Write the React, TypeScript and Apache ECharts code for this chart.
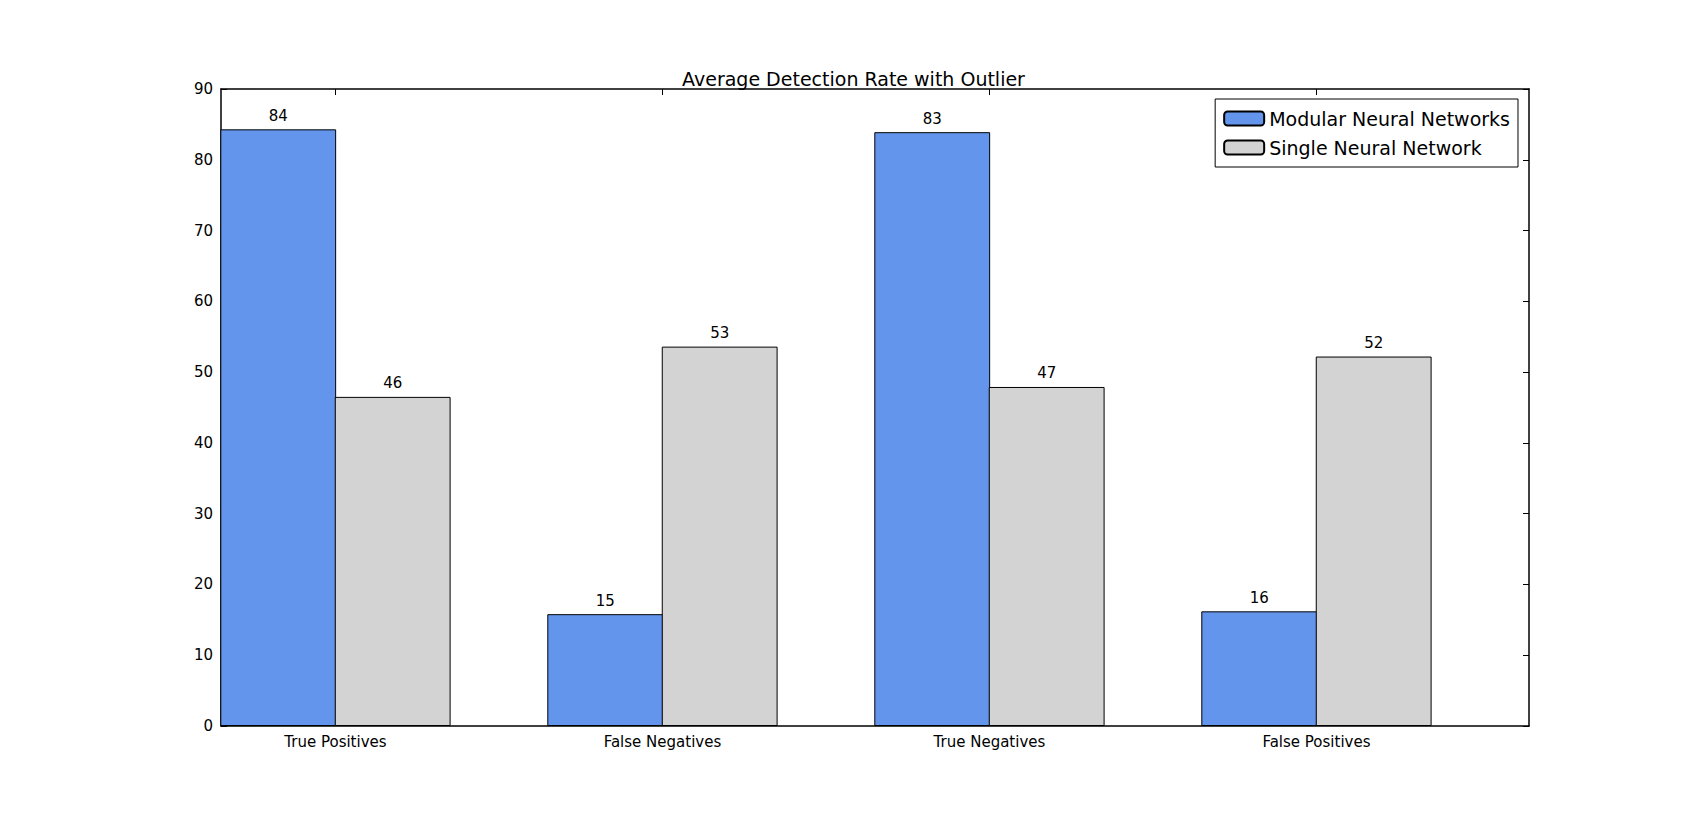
import * as echarts from "echarts";
import React, { useEffect, useRef } from "react";

const categories = ["True Positives", "False Negatives", "True Negatives", "False Positives"];
const modularValues = [84.3, 15.8, 83.9, 16.2];
const singleValues = [46.5, 53.6, 47.9, 52.2];
const yTicks = { min: 0, max: 90, interval: 10 };

const BAR = 0.35;
// 40 slots across [0,4]; slot centres at 0.35, 1.35 ... hold the category labels
const slots = Array.from({ length: 40 }, (_, k) => {
  const i = (k - 3) / 10;
  return Number.isInteger(i) ? categories[i] : "";
});
const isTick = (k: number) => (k - 3) % 10 === 0;

const App: React.FC = () => {
  const chartRef = useRef<HTMLDivElement | null>(null);

  useEffect(() => {
    if (!chartRef.current) return;
    const chart = echarts.init(chartRef.current, undefined, { renderer: "svg" });
    const plotW = 1537 - 213;
    const barPx = (plotW / 4) * BAR;
    const font = "DejaVu Sans";

    const catAxis = (pos: "bottom" | "top", labels: boolean) => ({
      type: "category" as const,
      data: slots,
      position: pos,
      boundaryGap: true,
      axisLine: { show: true, lineStyle: { color: "#000", width: 1.5 } },
      axisTick: {
        show: true,
        inside: true,
        length: 6,
        alignWithLabel: true,
        interval: (k: number) => isTick(k),
        lineStyle: { color: "#000" },
      },
      axisLabel: {
        show: labels,
        interval: (k: number) => isTick(k),
        color: "#000",
        fontSize: 15,
        fontFamily: font,
        margin: 8,
      },
      splitLine: { show: false },
    });

    const valAxis = (pos: "left" | "right", labels: boolean) => ({
      type: "value" as const,
      position: pos,
      ...yTicks,
      axisLine: { show: true, lineStyle: { color: "#000", width: 1.5 } },
      axisTick: { show: true, inside: true, length: 6, lineStyle: { color: "#000" } },
      axisLabel: { show: labels, color: "#000", fontSize: 15, fontFamily: font, margin: 8 },
      splitLine: { show: false },
    });

    const series = (name: string, vals: number[], offset: number, color: string) => ({
      name,
      type: "bar" as const,
      xAxisIndex: 0,
      yAxisIndex: 0,
      barWidth: barPx,
      barGap: "-100%",
      data: vals.map((v, i) => [i + offset, v]),
      itemStyle: { color, borderColor: "#000", borderWidth: 1 },
      label: {
        show: true,
        position: "top" as const,
        distance: 6,
        color: "#000",
        fontSize: 15,
        fontFamily: font,
        formatter: (p: any) => String(Math.floor(p.value[1])),
      },
    });

    chart.setOption({
      animation: false,
      title: {
        text: "Average Detection Rate with Outlier",
        left: "center",
        top: 56,
        textStyle: { fontSize: 19, fontWeight: "normal", color: "#000", fontFamily: font },
      },
      legend: {
        right: 1707 - 1526,
        top: 91,
        orient: "vertical",
        itemWidth: 40,
        itemHeight: 14,
        itemGap: 10,
        padding: [10, 8, 10, 8],
        borderColor: "#000",
        borderWidth: 1,
        textStyle: { fontSize: 19, color: "#000", fontFamily: font },
        data: ["Modular Neural Networks", "Single Neural Network"],
      },
      grid: { left: 213, right: 1707 - 1537, top: 81, bottom: 816 - 734 },
      xAxis: [
        { type: "value", min: 0, max: 4, show: false },
        catAxis("bottom", true),
        catAxis("top", false),
      ],
      yAxis: [valAxis("left", true), valAxis("right", false)],
      series: [
        series("Modular Neural Networks", modularValues, BAR / 2, "#6495ED"),
        series("Single Neural Network", singleValues, BAR * 1.5, "#D3D3D3"),
      ],
    });

    return () => chart.dispose();
  }, []);

  return <div ref={chartRef} style={{ width: 1691, height: 800 }} />;
};

export default App;
